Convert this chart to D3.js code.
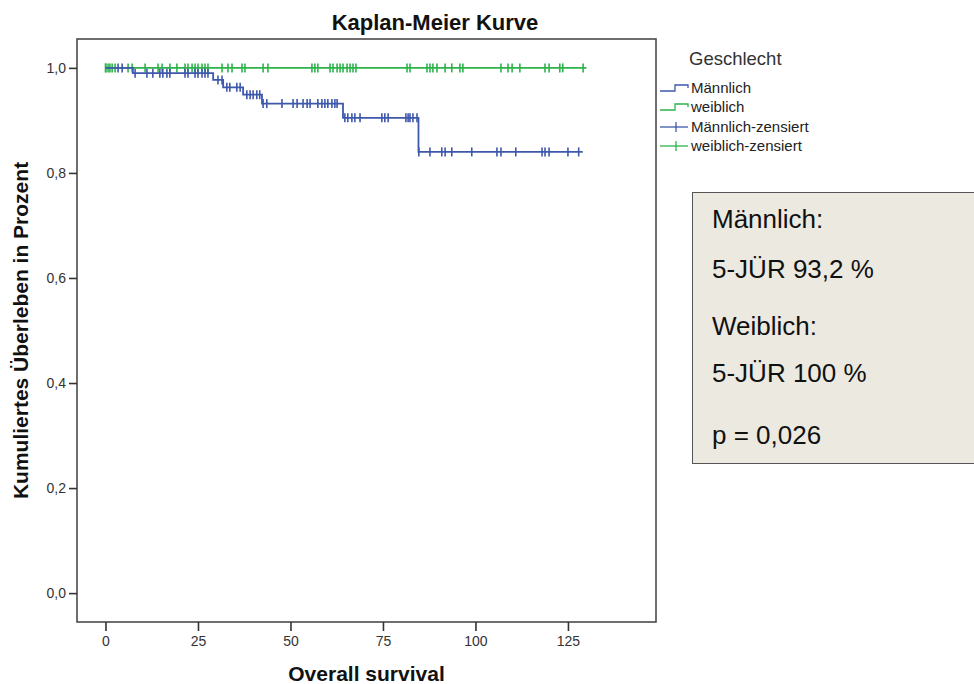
<!DOCTYPE html>
<html>
<head>
<meta charset="utf-8">
<script src="https://cdn.jsdelivr.net/npm/d3@7/dist/d3.min.js"></script>
<style>
  html, body { margin: 0; padding: 0; background: #fff; }
  svg { display: block; font-family: Arial, "Liberation Sans", sans-serif; }
</style>
</head>
<body>
<svg id="chart" width="974" height="684"></svg>
<script>
// Kaplan-Meier: cumulative survival by sex
const groups = ["Männlich", "weiblich"];
const groupColors = ["#3E58AC", "#2DB34A"];

// male events: time (months) and survival after the step
const maleEventTimes = [7.4, 29.1, 31.8, 37.2, 42.3, 64.2, 84.6];
const maleEventSurv  = [0.990, 0.977, 0.963, 0.949, 0.932, 0.905, 0.840];
const maleCensored = [3.4, 4.5, 8.0, 11.2, 12.8, 14.7, 15.5, 16.6, 17.4, 21.5, 22.3, 24.2, 25.0,
  26.1, 26.9, 27.7, 30.4, 31.5, 32.8, 33.6, 35.5, 36.4, 38.2, 39.1, 39.9, 40.9, 41.7, 42.6, 43.6,
  47.7, 50.7, 51.8, 53.4, 54.5, 55.3, 57.4, 58.5, 59.3, 60.1, 61.2, 62.0, 62.6, 64.7, 65.5, 66.6,
  67.4, 68.8, 74.7, 75.5, 76.4, 81.2, 81.8, 82.3, 83.1, 84.2, 84.7, 87.7, 90.9, 91.8, 93.6, 99.0,
  105.8, 106.9, 110.9, 118.0, 118.8, 119.9, 125.0, 127.9];
const maleFollowUpEnd = 129;

// female: no events
const femaleEventTimes = [];
const femaleEventSurv = [];
const femaleCensored = [0, 0.1, 0.7, 1.2, 1.8, 2.6, 6.1, 7.2, 10.7, 14.2, 15.3, 17.4, 19.3, 21.5,
  22.3, 23.4, 24.2, 25.0, 26.1, 26.9, 27.7, 31.5, 33.1, 34.2, 36.9, 37.7, 42.6, 43.9, 55.8, 56.6,
  57.4, 60.7, 61.5, 62.6, 63.4, 64.2, 65.3, 66.1, 66.9, 67.7, 81.5, 82.3, 86.9, 87.7, 88.5, 89.6,
  91.8, 93.6, 95.8, 96.6, 106.9, 108.8, 109.9, 112.0, 118.8, 119.9, 122.8, 123.6, 129.1];
const femaleFollowUpEnd = 130;

const xTicks = [0, 25, 50, 75, 100, 125];
const yTicks = [0, 0.2, 0.4, 0.6, 0.8, 1.0];
const legendLabels = ["Männlich", "weiblich", "Männlich-zensiert", "weiblich-zensiert"];
const infoLines = ["Männlich:", "5-JÜR 93,2 %", "Weiblich:", "5-JÜR 100 %", "p = 0,026"];

const svg = d3.select("#chart");
const plot = { left: 77, top: 39, right: 656, bottom: 622 };

const x = d3.scaleLinear().domain([-7.7, 148.8]).range([plot.left, plot.right]);
const y = d3.scaleLinear().domain([-0.055, 1.055]).range([plot.bottom, plot.top]);

// plot frame
svg.append("rect")
  .attr("x", plot.left).attr("y", plot.top)
  .attr("width", plot.right - plot.left).attr("height", plot.bottom - plot.top)
  .attr("fill", "#fff").attr("stroke", "#4a4a4a").attr("stroke-width", 1.6);

// axes
const fmt = d => d3.format(".1f")(d).replace(".", ",");
const yAxis = svg.append("g")
  .attr("transform", `translate(${plot.left},0)`)
  .call(d3.axisLeft(y).tickValues(yTicks).tickFormat(fmt).tickSize(8).tickSizeOuter(0));
const xAxis = svg.append("g")
  .attr("transform", `translate(0,${plot.bottom})`)
  .call(d3.axisBottom(x).tickValues(xTicks).tickFormat(d3.format("d")).tickSize(9).tickSizeOuter(0));
[xAxis, yAxis].forEach(a => {
  a.select(".domain").remove();
  a.selectAll(".tick line").attr("stroke", "#333").attr("stroke-width", 1.6);
  a.selectAll(".tick text").attr("fill", "#333").attr("font-size", 14)
   .attr("font-family", "Arial, 'Liberation Sans', sans-serif");
});
yAxis.selectAll(".tick text").attr("x", -11);
xAxis.selectAll(".tick text").attr("y", 14);

// titles
svg.append("text").attr("x", 435).attr("y", 30)
  .attr("text-anchor", "middle").attr("font-size", 22).attr("font-weight", "bold")
  .attr("fill", "#111").text("Kaplan-Meier Kurve");
svg.append("text").attr("x", (plot.left + plot.right) / 2).attr("y", 681)
  .attr("text-anchor", "middle").attr("font-size", 21).attr("font-weight", "bold")
  .attr("fill", "#111").text("Overall survival");
svg.append("text").attr("transform", `translate(28,${(plot.top + plot.bottom) / 2}) rotate(-90)`)
  .attr("text-anchor", "middle").attr("font-size", 21).attr("font-weight", "bold")
  .attr("fill", "#111").text("Kumuliertes Überleben in Prozent");

// survival curves
function curvePoints(times, surv, end) {
  const pts = [{ t: 0, s: 1 }];
  times.forEach((t, i) => pts.push({ t, s: surv[i] }));
  pts.push({ t: end, s: surv.length ? surv[surv.length - 1] : 1 });
  return pts;
}
function survAt(times, surv, t) {
  let s = 1;
  times.forEach((et, i) => { if (et <= t) s = surv[i]; });
  return s;
}
const line = d3.line().x(d => x(d.t)).y(d => y(d.s)).curve(d3.curveStepAfter);

const series = [
  { times: femaleEventTimes, surv: femaleEventSurv, cens: femaleCensored, end: femaleFollowUpEnd, color: groupColors[1] },
  { times: maleEventTimes, surv: maleEventSurv, cens: maleCensored, end: maleFollowUpEnd, color: groupColors[0] }
];
series.forEach(sr => {
  svg.append("path").datum(curvePoints(sr.times, sr.surv, sr.end))
    .attr("d", line).attr("fill", "none").attr("stroke", sr.color).attr("stroke-width", 1.8);
  svg.append("g").selectAll("line").data(sr.cens).join("line")
    .attr("x1", d => x(d)).attr("x2", d => x(d))
    .attr("y1", d => y(survAt(sr.times, sr.surv, d)) - 4.5)
    .attr("y2", d => y(survAt(sr.times, sr.surv, d)) + 4.5)
    .attr("stroke", sr.color).attr("stroke-width", 1.6);
});

// legend
const lg = svg.append("g").attr("transform", "translate(660,0)");
lg.append("text").attr("x", 29).attr("y", 65).attr("font-size", 18.5).attr("fill", "#333").text("Geschlecht");
const rowY = [88, 107, 127, 146];
legendLabels.forEach((lab, i) => {
  const c = groupColors[i % 2];
  const cy = rowY[i];
  if (i < 2) {
    lg.append("path").attr("d", `M0,${cy + 3}H15V${cy - 3}H28V${cy}`)
      .attr("fill", "none").attr("stroke", c).attr("stroke-width", 1.3);
  } else {
    lg.append("line").attr("x1", 0).attr("x2", 28).attr("y1", cy).attr("y2", cy)
      .attr("stroke", c).attr("stroke-width", 1.3);
    lg.append("line").attr("x1", 16).attr("x2", 16).attr("y1", cy - 5).attr("y2", cy + 5)
      .attr("stroke", c).attr("stroke-width", 1.3);
  }
  lg.append("text").attr("x", 31).attr("y", cy + 5).attr("font-size", 15).attr("fill", "#222").text(lab);
});

// info box
svg.append("rect").attr("x", 692.5).attr("y", 192.5).attr("width", 300).attr("height", 271)
  .attr("fill", "#ECE9E1").attr("stroke", "#555").attr("stroke-width", 1);
const infoBase = [228, 278, 335, 382, 444];
svg.append("g").selectAll("text").data(infoLines).join("text")
  .attr("x", 712).attr("y", (d, i) => infoBase[i])
  .attr("font-size", 26).attr("fill", "#111").text(d => d);
</script>
</body>
</html>
